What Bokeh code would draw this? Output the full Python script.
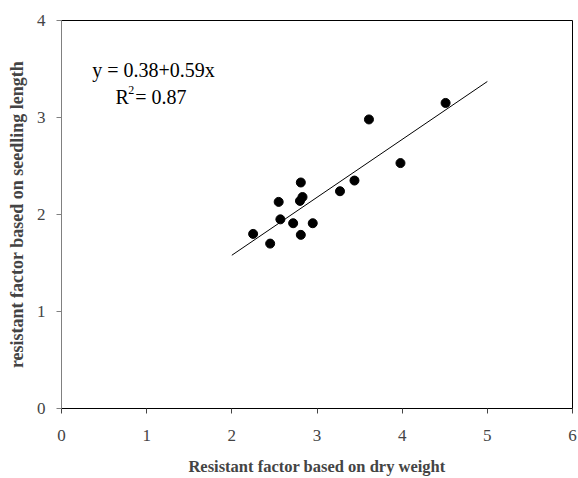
from bokeh.plotting import figure
from bokeh.models import Label, Range1d, FixedTicker
from bokeh.embed import file_html
from bokeh.resources import INLINE

# data
dry_weight = [4.51, 3.61, 3.98, 3.44, 3.27, 2.81, 2.83, 2.80, 2.55, 2.57, 2.72, 2.95, 2.81, 2.25, 2.45]
seedling_length = [3.15, 2.98, 2.53, 2.35, 2.24, 2.33, 2.18, 2.14, 2.13, 1.95, 1.91, 1.91, 1.79, 1.80, 1.70]
fit_intercept = 0.386
fit_slope = 0.597
fit_x = [2.0, 5.0]
fit_y = [fit_intercept + fit_slope * v for v in fit_x]
x_ticks = [0, 1, 2, 3, 4, 5, 6]
y_ticks = [0, 1, 2, 3, 4]

FONT = "Liberation Serif"

p = figure(width=578, height=478, output_backend="svg", toolbar_location=None,
           x_range=Range1d(0, 6), y_range=Range1d(0, 4),
           min_border_left=61, min_border_right=6, min_border_top=20, min_border_bottom=70)
p.background_fill_color = "white"
p.border_fill_color = "white"
p.outline_line_color = "black"
p.outline_line_width = 1
p.xgrid.visible = False
p.ygrid.visible = False

p.line(fit_x, fit_y, line_color="black", line_width=1)
p.scatter(dry_weight, seedling_length, size=9, fill_color="black", line_color="black")

xa = p.xaxis[0]
xa.ticker = FixedTicker(ticks=x_ticks)
xa.axis_line_color = "black"
xa.major_tick_line_color = "#444444"
xa.major_tick_in = 0
xa.major_tick_out = 5
xa.minor_tick_line_color = None
xa.major_label_text_font = FONT
xa.major_label_text_font_size = "17px"
xa.major_label_standoff = 16
xa.axis_label = "Resistant factor based on dry weight"
xa.axis_label_text_font = FONT
xa.axis_label_text_font_style = "bold"
xa.axis_label_text_font_size = "16.5px"
xa.axis_label_standoff = 13

ya = p.yaxis[0]
ya.ticker = FixedTicker(ticks=y_ticks)
ya.axis_line_color = "#808080"
ya.major_tick_line_color = "#808080"
ya.major_tick_in = 0
ya.major_tick_out = 5
ya.minor_tick_line_color = None
ya.major_label_text_font = FONT
ya.major_label_text_font_size = "17px"
ya.major_label_standoff = 11
ya.axis_label = "resistant factor based on seedling length"
ya.axis_label_text_font = FONT
ya.axis_label_text_font_style = "bold"
ya.axis_label_text_font_size = "18px"
ya.axis_label_standoff = 7

p.add_layout(Label(x=0.36, y=3.49, text="y = 0.38+0.59x", text_font=FONT,
                   text_font_size="20px", text_color="black", text_baseline="alphabetic"))
p.add_layout(Label(x=0.634, y=3.21, text="R", text_font=FONT,
                   text_font_size="20px", text_color="black", text_baseline="alphabetic"))
p.add_layout(Label(x=0.785, y=3.285, text="2", text_font=FONT,
                   text_font_size="12px", text_color="black", text_baseline="alphabetic"))
p.add_layout(Label(x=0.865, y=3.21, text="= 0.87", text_font=FONT,
                   text_font_size="20px", text_color="black", text_baseline="alphabetic"))

open("out.html", "w").write(file_html(p, INLINE))
